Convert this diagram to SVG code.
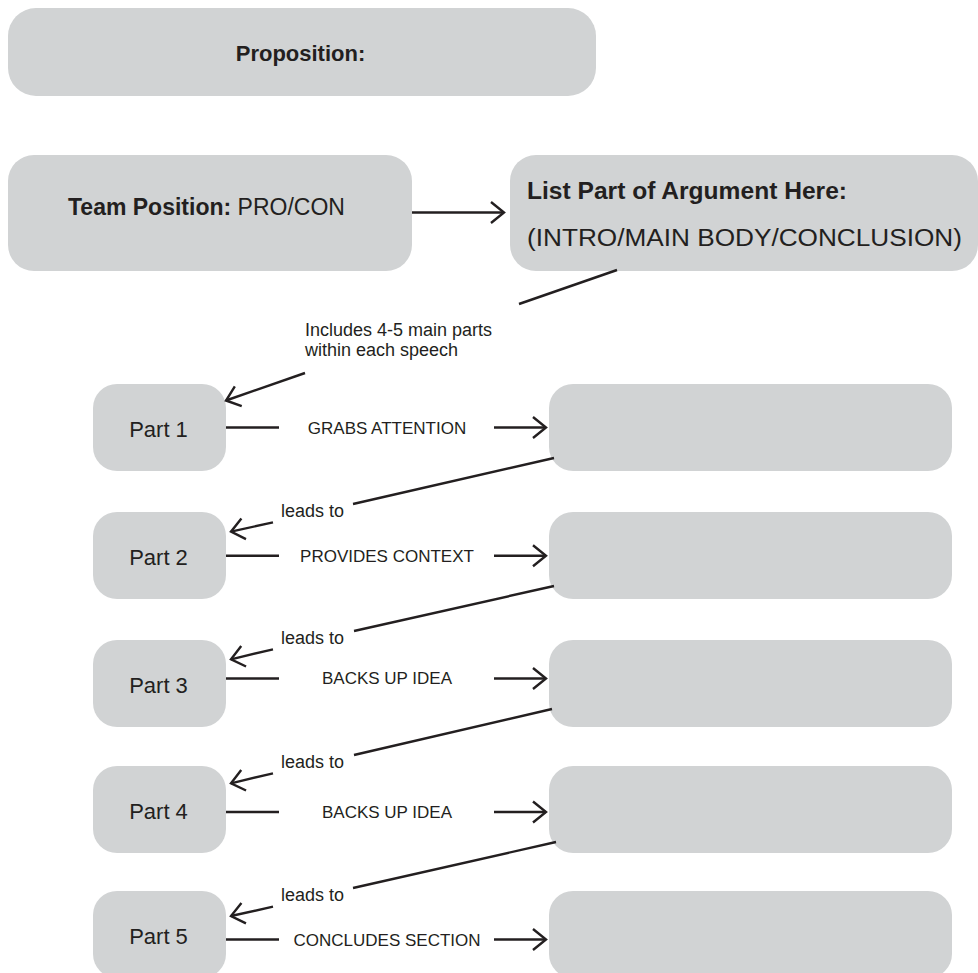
<svg xmlns="http://www.w3.org/2000/svg" width="978" height="973" viewBox="0 0 978 973">
<defs>
<style>
.box{fill:#d1d3d4;}
.t{font-family:"Liberation Sans",Arial,sans-serif;fill:#231f20;}
.big{font-size:22px;}
.b{font-weight:bold;}
.lbl{font-size:17px;}
.sm{font-size:18px;}
.ln{stroke:#231f20;stroke-width:2.4;fill:none;}
</style>
<marker id="ah" markerUnits="userSpaceOnUse" markerWidth="18" markerHeight="26" refX="15" refY="12.5" orient="auto" overflow="visible">
<path d="M2,2 L15,12.5 L2,23" fill="none" stroke="#231f20" stroke-width="2.4"/>
</marker>
</defs>
<rect width="978" height="973" fill="#ffffff"/>

<g id="proposition">
<rect class="box" x="8" y="8" width="588" height="88" rx="28" ry="28"/>
<text class="t big b" x="300.5" y="61" text-anchor="middle" font-size="23">Proposition:</text>
</g>

<g id="team-position">
<rect class="box" x="8" y="155" width="404" height="116" rx="26" ry="26"/>
<text class="t" x="68" y="215" font-size="23"><tspan font-weight="bold">Team Position:</tspan> PRO/CON</text>
</g>

<g id="argument-part">
<rect class="box" x="510" y="155" width="468" height="116" rx="26" ry="26"/>
<text class="t b" x="527" y="199" font-size="23" textLength="320" lengthAdjust="spacingAndGlyphs">List Part of Argument Here:</text>
<text class="t" x="527" y="246" font-size="23" textLength="435" lengthAdjust="spacingAndGlyphs">(INTRO/MAIN BODY/CONCLUSION)</text>
</g>

<g id="part1"><rect class="box" x="93" y="384" width="133" height="87" rx="24" ry="24"/><text class="t big" x="158.5" y="436.5" text-anchor="middle">Part 1</text></g>
<g id="part2"><rect class="box" x="93" y="512" width="133" height="87" rx="24" ry="24"/><text class="t big" x="158.5" y="565" text-anchor="middle">Part 2</text></g>
<g id="part3"><rect class="box" x="93" y="640" width="133" height="87" rx="24" ry="24"/><text class="t big" x="158.5" y="692.5" text-anchor="middle">Part 3</text></g>
<g id="part4"><rect class="box" x="93" y="766" width="133" height="87" rx="24" ry="24"/><text class="t big" x="158.5" y="819" text-anchor="middle">Part 4</text></g>
<g id="part5"><rect class="box" x="93" y="891" width="133" height="87" rx="24" ry="24"/><text class="t big" x="158.5" y="944" text-anchor="middle">Part 5</text></g>

<g id="detail1"><rect class="box" x="549" y="384" width="403" height="87" rx="24" ry="24"/></g>
<g id="detail2"><rect class="box" x="549" y="512" width="403" height="87" rx="24" ry="24"/></g>
<g id="detail3"><rect class="box" x="549" y="640" width="403" height="87" rx="24" ry="24"/></g>
<g id="detail4"><rect class="box" x="549" y="766" width="403" height="87" rx="24" ry="24"/></g>
<g id="detail5"><rect class="box" x="549" y="891" width="403" height="87" rx="24" ry="24"/></g>

<g id="connectors">
<line class="ln" x1="412" y1="212.5" x2="504" y2="212.5" marker-end="url(#ah)"/>
<line class="ln" x1="617" y1="270" x2="519" y2="304"/>
<line class="ln" x1="305" y1="373" x2="226" y2="400.5" marker-end="url(#ah)"/>

<line class="ln" x1="226" y1="427.5" x2="279" y2="427.5"/>
<line class="ln" x1="494" y1="427.5" x2="546" y2="427.5" marker-end="url(#ah)"/>
<line class="ln" x1="226" y1="555.7" x2="279" y2="555.7"/>
<line class="ln" x1="494" y1="555.7" x2="546" y2="555.7" marker-end="url(#ah)"/>
<line class="ln" x1="226" y1="678.5" x2="279" y2="678.5"/>
<line class="ln" x1="494" y1="678.5" x2="546" y2="678.5" marker-end="url(#ah)"/>
<line class="ln" x1="226" y1="812" x2="279" y2="812"/>
<line class="ln" x1="494" y1="812" x2="546" y2="812" marker-end="url(#ah)"/>
<line class="ln" x1="226" y1="939.5" x2="279" y2="939.5"/>
<line class="ln" x1="494" y1="939.5" x2="546" y2="939.5" marker-end="url(#ah)"/>

<line class="ln" x1="554" y1="458" x2="353" y2="504"/>
<line class="ln" x1="273" y1="522.3" x2="231" y2="531.7" marker-end="url(#ah)"/>
<line class="ln" x1="554" y1="586" x2="354" y2="631"/>
<line class="ln" x1="273" y1="649.3" x2="231" y2="659.3" marker-end="url(#ah)"/>
<line class="ln" x1="552" y1="709" x2="354" y2="755"/>
<line class="ln" x1="273" y1="773.3" x2="231" y2="783.3" marker-end="url(#ah)"/>
<line class="ln" x1="556" y1="842" x2="353" y2="888"/>
<line class="ln" x1="273" y1="906.7" x2="231" y2="916" marker-end="url(#ah)"/>

<text class="t sm" x="305" y="336">Includes 4-5 main parts</text>
<text class="t sm" x="305" y="356">within each speech</text>

<text class="t lbl" x="387" y="434" text-anchor="middle">GRABS ATTENTION</text>
<text class="t lbl" x="387" y="562" text-anchor="middle">PROVIDES CONTEXT</text>
<text class="t lbl" x="387" y="684" text-anchor="middle">BACKS UP IDEA</text>
<text class="t lbl" x="387" y="818" text-anchor="middle">BACKS UP IDEA</text>
<text class="t lbl" x="387" y="946" text-anchor="middle">CONCLUDES SECTION</text>

<text class="t sm" x="281" y="517">leads to</text>
<text class="t sm" x="281" y="644">leads to</text>
<text class="t sm" x="281" y="768">leads to</text>
<text class="t sm" x="281" y="901">leads to</text>
</g>
</svg>
